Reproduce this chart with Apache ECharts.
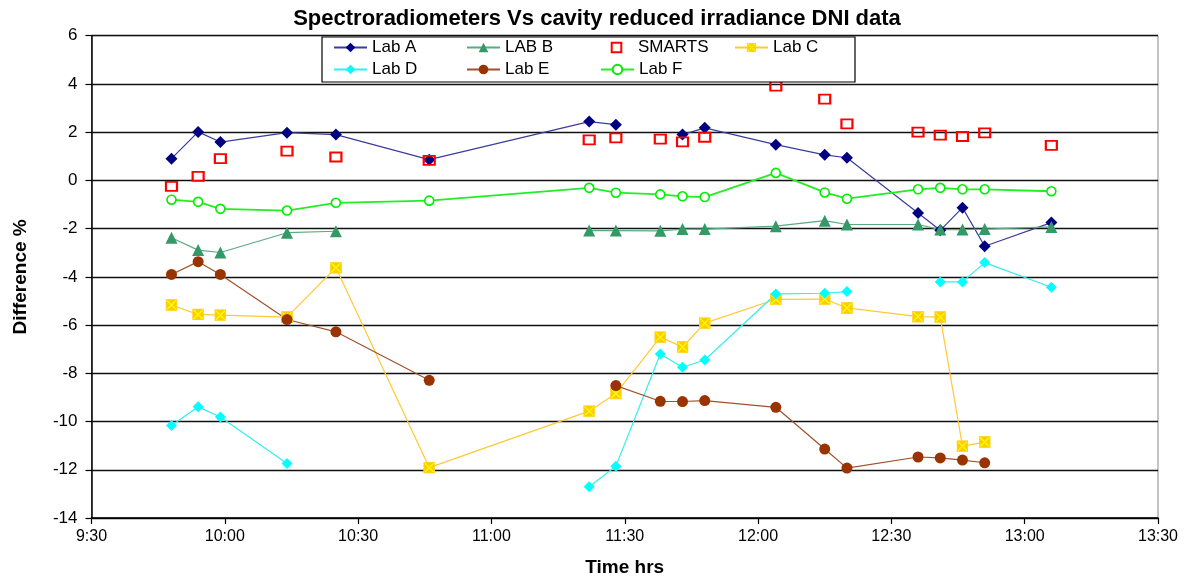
<!DOCTYPE html>
<html><head><meta charset="utf-8">
<script src="https://cdn.jsdelivr.net/npm/echarts@6/dist/echarts.min.js"></script>
<style>html,body{margin:0;padding:0;background:#fff}#c{width:1188px;height:582px}</style>
</head><body><div id="c"></div>
<script>
// ---- data ----
const timeLabels = ['9:48','9:54','9:59','10:14','10:25','10:46','11:22','11:28','11:38','11:43','11:48','12:04','12:15','12:20','12:36','12:41','12:46','12:51','13:06'];
const labA   = [0.90, 2.01, 1.59, 1.98, 1.90, 0.86, 2.44, 2.31, null, 1.90, 2.18, 1.48, 1.06, 0.94, -1.35, -2.07, -1.13, -2.73, -1.75];
const labB   = [-2.38, -2.89, -2.99, -2.17, -2.11, null, -2.08, -2.08, -2.09, -2.02, -2.02, -1.90, -1.67, -1.83, -1.83, -2.04, -2.04, -2.02, -1.93];
const smarts = [-0.25, 0.17, 0.90, 1.21, 0.97, 0.83, 1.68, 1.76, 1.71, 1.60, 1.79, 3.91, 3.37, 2.34, 2.00, 1.88, 1.82, 1.97, 1.45];
const labC   = [-5.17, -5.56, -5.59, -5.67, -3.62, -11.91, -9.57, -8.84, -6.50, -6.91, -5.92, -4.93, -4.92, -5.29, -5.65, -5.67, -11.02, -10.85, null];
const labD   = [-10.16, -9.39, -9.81, -11.74, null, null, -12.70, -11.85, -7.20, -7.75, -7.45, -4.71, -4.68, -4.61, null, -4.21, -4.21, -3.41, -4.43];
const labE   = [-3.90, -3.37, -3.90, -5.77, -6.28, -8.29, null, -8.51, -9.16, -9.17, -9.13, -9.41, -11.14, -11.93, -11.47, -11.51, -11.60, -11.71, null];
const labF   = [-0.80, -0.89, -1.18, -1.25, -0.93, -0.84, -0.31, -0.51, -0.58, -0.66, -0.69, 0.31, -0.50, -0.76, -0.37, -0.31, -0.37, -0.37, -0.45];
const seriesNames = ['Lab A','LAB B','SMARTS','Lab C','Lab D','Lab E','Lab F'];
const xTickLabels = ['9:30','10:00','10:30','11:00','11:30','12:00','12:30','13:00','13:30'];
const yTicks = [-14,-12,-10,-8,-6,-4,-2,0,2,4,6];

// ---- helpers ----
function toMin(s){const p=s.split(':').map(Number);return p[0]*60+p[1];}
function fmt(v){const h=Math.floor(v/60), m=Math.round(v%60);return h+':'+(m<10?'0':'')+m;}
const xs = timeLabels.map(toMin);
const pairs = vals => xs.map((x,i)=>[x, vals[i]==null?'-':vals[i]]);
const FONT = "'Liberation Sans', Arial, sans-serif";

const cSym = 'image://data:image/svg+xml;charset=utf-8,' + encodeURIComponent(
  "<svg xmlns='http://www.w3.org/2000/svg' width='24' height='24'><rect x='1' y='1' width='22' height='22' fill='#FFCC00' stroke='#FFD633' stroke-width='2'/><path d='M3,3L21,21M21,3L3,21' stroke='#FFFF00' stroke-width='2.5'/></svg>");

function line(name, vals, o){
  return Object.assign({
    name, type:'line', data: pairs(vals), connectNulls:false, animation:false,
    showSymbol:true, emphasis:{disabled:true}
  }, o);
}

const series = [
  line(seriesNames[0], labA, {symbol:'diamond', symbolSize:12, itemStyle:{color:'#000080'}, lineStyle:{color:'#3c3c9c', width:1.2}, z:2}),
  line(seriesNames[1], labB, {symbol:'triangle', symbolSize:12, itemStyle:{color:'#339966'}, lineStyle:{color:'#5aab82', width:1.2}, z:2}),
  line(seriesNames[2], smarts, {symbol:'rect', symbolSize:[11,9], itemStyle:{color:'rgba(255,255,255,0)', borderColor:'#FF0000', borderWidth:2}, lineStyle:{width:0, opacity:0}, z:3}),
  line(seriesNames[3], labC, {symbol:cSym, symbolSize:12, itemStyle:{color:'#FFCC00'}, lineStyle:{color:'#FFC933', width:1.2}, z:2}),
  line(seriesNames[4], labD, {symbol:'diamond', symbolSize:11, itemStyle:{color:'#00FFFF'}, lineStyle:{color:'#33EEEE', width:1.2}, z:2}),
  line(seriesNames[5], labE, {symbol:'circle', symbolSize:11, itemStyle:{color:'#993300'}, lineStyle:{color:'#A0522D', width:1.2}, z:2}),
  line(seriesNames[6], labF, {symbol:'circle', symbolSize:9, itemStyle:{color:'#ffffff', borderColor:'#00EE00', borderWidth:1.6}, lineStyle:{color:'#22EE22', width:1.8}, z:2})
];

// legend: 4 columns x 2 rows, one legend component per entry
const colLeft = [333, 466, 600, 734];
const rowTop = [39, 61];
const legends = seriesNames.map((n,i)=>({
  data:[n], left: colLeft[i%4], top: rowTop[Math.floor(i/4)], padding:0,
  itemWidth:33, itemHeight:12, z:10, selectedMode:false,
  textStyle:{fontFamily:FONT, fontSize:17, color:'#000'}
}));

const option = {
  backgroundColor:'#fff',
  animation:false,
  title:{text:'Spectroradiometers Vs cavity reduced irradiance DNI data', left:592, textAlign:'center', top:3,
    textStyle:{fontFamily:FONT, fontSize:22, fontWeight:'bold', color:'#000'}},
  grid:{left:91.5, right:30, top:35.7, bottom:62.7, show:true, borderColor:'#888', borderWidth:1, backgroundColor:'transparent'},
  legend: legends,
  graphic:[{type:'rect', shape:{x:322, y:37, width:533, height:45}, style:{fill:'#fff', stroke:'#000', lineWidth:1.2}, z:5}],
  xAxis:{
    type:'value', min:toMin(xTickLabels[0]), max:toMin(xTickLabels[xTickLabels.length-1]), interval:30,
    name:'Time hrs', nameLocation:'middle', nameGap:40,
    nameTextStyle:{fontFamily:FONT, fontSize:19, fontWeight:'bold', color:'#000', verticalAlign:'top'},
    axisLine:{show:true, onZero:false, lineStyle:{color:'#000', width:1.5}},
    axisTick:{show:true, inside:false, length:6, lineStyle:{color:'#000', width:1.2}},
    axisLabel:{formatter:fmt, fontFamily:FONT, fontSize:16, color:'#000', margin:11},
    splitLine:{show:false}
  },
  yAxis:{
    type:'value', min:yTicks[0], max:yTicks[yTicks.length-1], interval:2,
    name:'Difference %', nameLocation:'middle', nameGap:61, nameRotate:90,
    nameTextStyle:{fontFamily:FONT, fontSize:19, fontWeight:'bold', color:'#000'},
    axisLine:{show:true, onZero:false, lineStyle:{color:'#000', width:1.5}},
    axisTick:{show:true, inside:false, length:6, lineStyle:{color:'#000', width:1.2}},
    axisLabel:{fontFamily:FONT, fontSize:17, color:'#000', margin:14},
    splitLine:{show:true, lineStyle:{color:'#111', width:1.4}}
  },
  series
};
const chart = echarts.init(document.getElementById('c'), null, {renderer:'canvas'});
chart.setOption(option);
</script></body></html>
